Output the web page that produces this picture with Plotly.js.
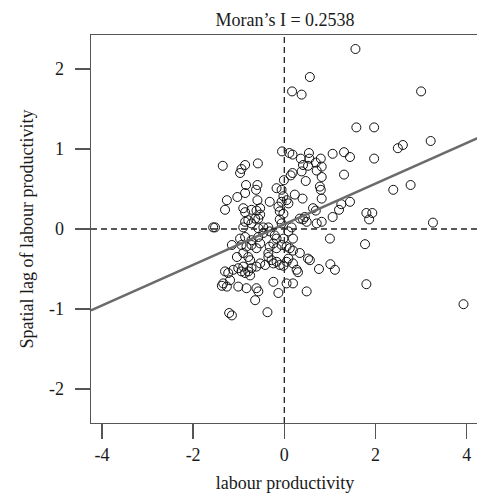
<!DOCTYPE html>
<html>
<head>
<meta charset="utf-8">
<script src="https://cdn.plot.ly/plotly-3.0.1.min.js"></script>
<style>
html, body { margin: 0; padding: 0; overflow: hidden; background: #fff; }
#chart { width: 479px; height: 495px; }
</style>
</head>
<body>
<div id="chart"></div>
<script>
// Standardised labour productivity (x) and its spatial lag (y)
const labourProductivity = [
  1.56, 0.56, 0.17, 0.38, 3.00, 1.58, 1.97, 2.49, 2.60, 3.21,
  -0.05, 0.11, 0.18, 0.36, 0.54, 0.80, 1.06, 1.31, 1.44, 1.97,
  0.55, 0.41, 0.52, 0.69, 0.82, 0.18, 0.14, 0.38, 0.71, 0.82,
  1.31, 0.47, -0.01, -1.35, -0.86, -0.94, -0.97, -0.58, 0.78, 0.80,
  2.39, 2.77, 0.23, 0.40, 0.82, -0.06, -0.02, -0.06, -0.84, -0.59,
  -0.62, -0.86, -1.26, -1.03, -0.59, -0.32, -0.17, 0.05, 1.25, 1.44,
  1.20, 0.63, 0.69, 1.80, 1.93, 1.86, 0.34, 0.41, 0.71, 0.82,
  1.06, 3.26, 0.16, -1.30, -0.13, -0.10, -0.02, -0.10, -0.06, 0.09,
  -0.90, -0.86, -0.72, -0.61, -0.53, -0.53, -0.57, -0.64, -0.79, -0.86,
  -0.72, -0.90, -1.52, -1.56, -0.46, -0.35, -0.57, 0.45, 0.49, -0.97,
  -0.86, -0.72, -0.57, -0.46, -0.32, -0.21, -0.17, -0.02, 0.19, 0.09,
  -1.15, -0.94, -0.83, -0.72, -0.53, -0.61, -0.32, -0.24, -0.17, -0.06,
  0.05, 0.12, 0.19, 0.34, 0.52, 1.00, 1.77, 0.56, -1.04, -0.90,
  -0.79, -0.75, -0.35, -0.35, -0.28, -0.17, 0.05, 0.09, -0.53, -0.61,
  -0.42, -0.24, -0.10, 0.19, 0.27, 0.30, -1.30, -1.23, -1.12, -1.01,
  -0.94, -0.86, -0.75, -0.79, -0.90, -0.72, -1.19, -1.34, -1.37, -1.26,
  -1.01, -0.83, -0.61, -0.57, -0.64, -0.24, -0.13, 0.05, 0.19, 0.49,
  -0.02, 0.76, 1.01, 1.11, 1.80, 3.93, -1.21, -1.15, -0.37
];
const spatialLag = [
  2.25, 1.90, 1.72, 1.68, 1.72, 1.27, 1.27, 1.01, 1.05, 1.10,
  0.97, 0.95, 0.93, 0.88, 0.95, 0.88, 0.94, 0.96, 0.90, 0.88,
  0.88, 0.80, 0.79, 0.83, 0.78, 0.70, 0.67, 0.72, 0.73, 0.65,
  0.68, 0.60, 0.61, 0.79, 0.80, 0.75, 0.70, 0.82, 0.53, 0.49,
  0.49, 0.55, 0.43, 0.38, 0.38, 0.49, 0.41, 0.34, 0.55, 0.55,
  0.49, 0.45, 0.36, 0.40, 0.36, 0.34, 0.51, 0.36, 0.31, 0.34,
  0.24, 0.26, 0.23, 0.20, 0.20, 0.12, 0.13, 0.12, 0.07, 0.09,
  0.15, 0.08, 0.02, 0.24, 0.28, 0.22, 0.19, 0.12, 0.07, 0.32,
  0.26, 0.21, 0.24, 0.23, 0.26, 0.18, 0.13, 0.13, 0.11, 0.09,
  0.07, 0.02, 0.02, 0.02, 0.02, 0.02, 0.01, 0.15, 0.09, -0.12,
  -0.10, -0.14, -0.10, -0.05, -0.03, -0.08, -0.12, -0.12, -0.12, -0.03,
  -0.20, -0.20, -0.22, -0.20, -0.18, -0.24, -0.22, -0.18, -0.24, -0.20,
  -0.22, -0.24, -0.27, -0.30, -0.37, -0.12, -0.19, -0.39, -0.35, -0.30,
  -0.35, -0.39, -0.35, -0.30, -0.39, -0.41, -0.41, -0.37, -0.43, -0.47,
  -0.45, -0.43, -0.45, -0.43, -0.51, -0.54, -0.53, -0.55, -0.51, -0.49,
  -0.53, -0.55, -0.58, -0.53, -0.47, -0.49, -0.64, -0.68, -0.71, -0.72,
  -0.72, -0.74, -0.74, -0.78, -0.89, -0.66, -0.80, -0.68, -0.68, -0.78,
  -0.46, -0.50, -0.44, -0.51, -0.69, -0.94, -1.05, -1.08, -1.04
];
const moranI = 0.2538;        // slope of the Moran scatterplot line
const lagIntercept = 0.06;    // intercept of the fitted line
const xTicks = [-4, -2, 0, 2, 4];
const yTicks = [-2, -1, 0, 1, 2];
const titleText = "Moran\u2019s I = 0.2538";
const xLabel = "labour productivity";
const yLabel = "Spatial lag of labour productivity";

const xRange = [-4.24, 4.27];
const yRange = [-2.425, 2.425];
const fitX = xRange.slice();
const fitY = fitX.map(v => lagIntercept + moranI * v);

const serif = "Liberation Serif";
const mkFont = () => ({ family: serif, size: 18, color: "#1a1a1a" });

const traces = [
  {
    type: "scatter", mode: "markers",
    x: labourProductivity, y: spatialLag,
    marker: { symbol: "circle-open", size: 9, color: "#111", line: { width: 1, color: "#111" } },
    hoverinfo: "x+y", showlegend: false
  },
  {
    type: "scatter", mode: "lines",
    x: fitX, y: fitY,
    line: { color: "#6b6b6b", width: 2.5 },
    hoverinfo: "skip", showlegend: false
  }
];

const axisCommon = () => ({
  showgrid: false, zeroline: false,
  showline: true, mirror: true, linecolor: "#555", linewidth: 1.3,
  ticks: "outside", ticklen: 15, tickwidth: 1.3, tickcolor: "#555",
  tickfont: mkFont(), automargin: false, fixedrange: true
});

const layout = {
  width: 479, height: 495,
  margin: { l: 91, r: 0, t: 35, b: 72 },
  paper_bgcolor: "#fff", plot_bgcolor: "#fff",
  font: mkFont(),
  title: { text: titleText, font: mkFont(), x: 0.5, xref: "paper", y: 1 - 20 / 495, yref: "container", yanchor: "middle" },
  xaxis: Object.assign(axisCommon(), {
    range: xRange, tickmode: "array", tickvals: xTicks, ticktext: xTicks.map(String),
    ticklabelstandoff: 0,
    title: { text: xLabel, font: mkFont(), standoff: 12 }
  }),
  yaxis: Object.assign(axisCommon(), {
    range: yRange, tickmode: "array", tickvals: yTicks, ticktext: yTicks.map(String),
    ticklabelstandoff: 7,
    title: { text: yLabel, font: mkFont(), standoff: 10 }
  }),
  shapes: [
    { type: "line", xref: "x", yref: "paper", x0: 0, x1: 0, y0: 0, y1: 1,
      line: { color: "#222", width: 1.3, dash: "6px,4px" }, layer: "above" },
    { type: "line", xref: "paper", yref: "y", x0: 0, x1: 1, y0: 0, y1: 0,
      line: { color: "#222", width: 1.3, dash: "6px,4px" }, layer: "above" }
  ]
};

Plotly.newPlot("chart", traces, layout, { displayModeBar: false, staticPlot: true });
</script>
</body>
</html>
